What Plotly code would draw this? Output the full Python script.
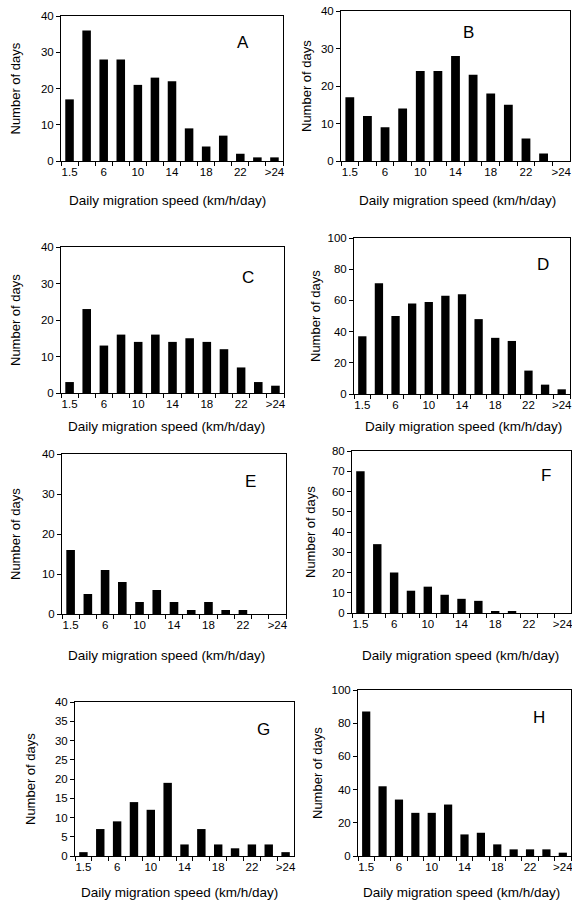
import plotly.graph_objects as go

W, H = 572, 901

categories = ['1.5', '4', '6', '8', '10', '12', '14', '16', '18', '20', '22', '24', '>24']
tick_labels = ['1.5', '', '6', '', '10', '', '14', '', '18', '', '22', '', '>24']

vals_A = [17, 36, 28, 28, 21, 23, 22, 9, 4, 7, 2, 1, 1]
vals_B = [17, 12, 9, 14, 24, 24, 28, 23, 18, 15, 6, 2, 0]
vals_C = [3, 23, 13, 16, 14, 16, 14, 15, 14, 12, 7, 3, 2]
vals_D = [37, 71, 50, 58, 59, 63, 64, 48, 36, 34, 15, 6, 3]
vals_E = [16, 5, 11, 8, 3, 6, 3, 1, 3, 1, 1, 0, 0]
vals_F = [70, 34, 20, 11, 13, 9, 7, 6, 1, 1, 0, 0, 0]
vals_G = [1, 7, 9, 14, 12, 19, 3, 7, 3, 2, 3, 3, 1]
vals_H = [87, 42, 34, 26, 26, 31, 13, 14, 7, 4, 4, 4, 2]

panel_letters = ['A', 'B', 'C', 'D', 'E', 'F', 'G', 'H']
series = [vals_A, vals_B, vals_C, vals_D, vals_E, vals_F, vals_G, vals_H]
y_max = [40, 40, 40, 100, 40, 80, 40, 100]
y_dtick = [10, 10, 10, 20, 10, 10, 5, 20]

x_title = 'Daily migration speed (km/h/day)'
y_title = 'Number of days'

# layout (pixels): plot box [x0, x1, ytop, ybottom]
boxes = [
    (61, 283, 16, 161),
    (341, 570, 11, 161),
    (61, 284, 247, 393),
    (354, 570, 238, 394),
    (62, 286, 454, 614),
    (352, 571, 451, 613),
    (75, 294, 702, 856),
    (358, 571, 690, 856),
]
ytitle_x = [15, 307, 15, 315, 15, 310, 30, 317]
xtitle_pos = [(167, 200), (457, 200), (166, 426), (463, 426),
              (166, 655), (460, 655), (179, 892), (461, 892)]
letter_pos = [(243, 43), (468, 33), (248, 277), (543, 264),
              (250, 482), (546, 475), (263, 729), (539, 717)]

def px(x):
    return x / W

def py(y):
    return 1 - y / H

FONT = 'Liberation Sans, Arial, sans-serif'
fig = go.Figure()
annotations = []
layout = {}
for i, (vals, box) in enumerate(zip(series, boxes)):
    n = '' if i == 0 else str(i + 1)
    fig.add_trace(go.Bar(x=categories, y=vals, marker=dict(color='black', line=dict(width=0)),
                         xaxis='x' + n, yaxis='y' + n, showlegend=False))
    x0, x1, yt, yb = box
    layout['xaxis' + n] = dict(
        domain=[px(x0), px(x1)], anchor='y' + n, type='category',
        categoryorder='array', categoryarray=categories,
        tickmode='array', tickvals=categories, ticktext=tick_labels, tickangle=0,
        tickson='boundaries', ticks='outside', ticklen=4, tickwidth=1, tickcolor='black',
        showline=True, linecolor='black', linewidth=1, mirror=True,
        showgrid=False, zeroline=False, automargin=False,
        tickfont=dict(family=FONT, size=11.5, color='black'), fixedrange=True)
    layout['yaxis' + n] = dict(
        domain=[py(yb), py(yt)], anchor='x' + n, range=[0, y_max[i]], dtick=y_dtick[i],
        ticks='outside', ticklen=4, tickwidth=1, tickcolor='black',
        showline=True, linecolor='black', linewidth=1, mirror=True,
        showgrid=False, zeroline=False, automargin=False,
        tickfont=dict(family=FONT, size=11.5, color='black'), fixedrange=True)
    annotations.append(dict(text=y_title, x=px(ytitle_x[i]), y=py((yt + yb) / 2),
                            xref='paper', yref='paper', showarrow=False, textangle=-90,
                            xanchor='center', yanchor='middle',
                            font=dict(family=FONT, size=13, color='black')))
    annotations.append(dict(text=x_title, x=px(xtitle_pos[i][0]), y=py(xtitle_pos[i][1]),
                            xref='paper', yref='paper', showarrow=False,
                            xanchor='center', yanchor='middle',
                            font=dict(family=FONT, size=13.5, color='black')))
    annotations.append(dict(text=panel_letters[i], x=px(letter_pos[i][0]), y=py(letter_pos[i][1]),
                            xref='paper', yref='paper', showarrow=False,
                            xanchor='center', yanchor='middle',
                            font=dict(family=FONT, size=17, color='black')))

fig.update_layout(width=W, height=H, margin=dict(l=0, r=0, t=0, b=0),
                  paper_bgcolor='white', plot_bgcolor='white', bargap=0.5,
                  hovermode=False,
                  annotations=annotations, **layout)
fig.write_html('out.html', config={'displayModeBar': False},
               post_script="document.body.style.margin='0';document.body.style.overflow='hidden';")
